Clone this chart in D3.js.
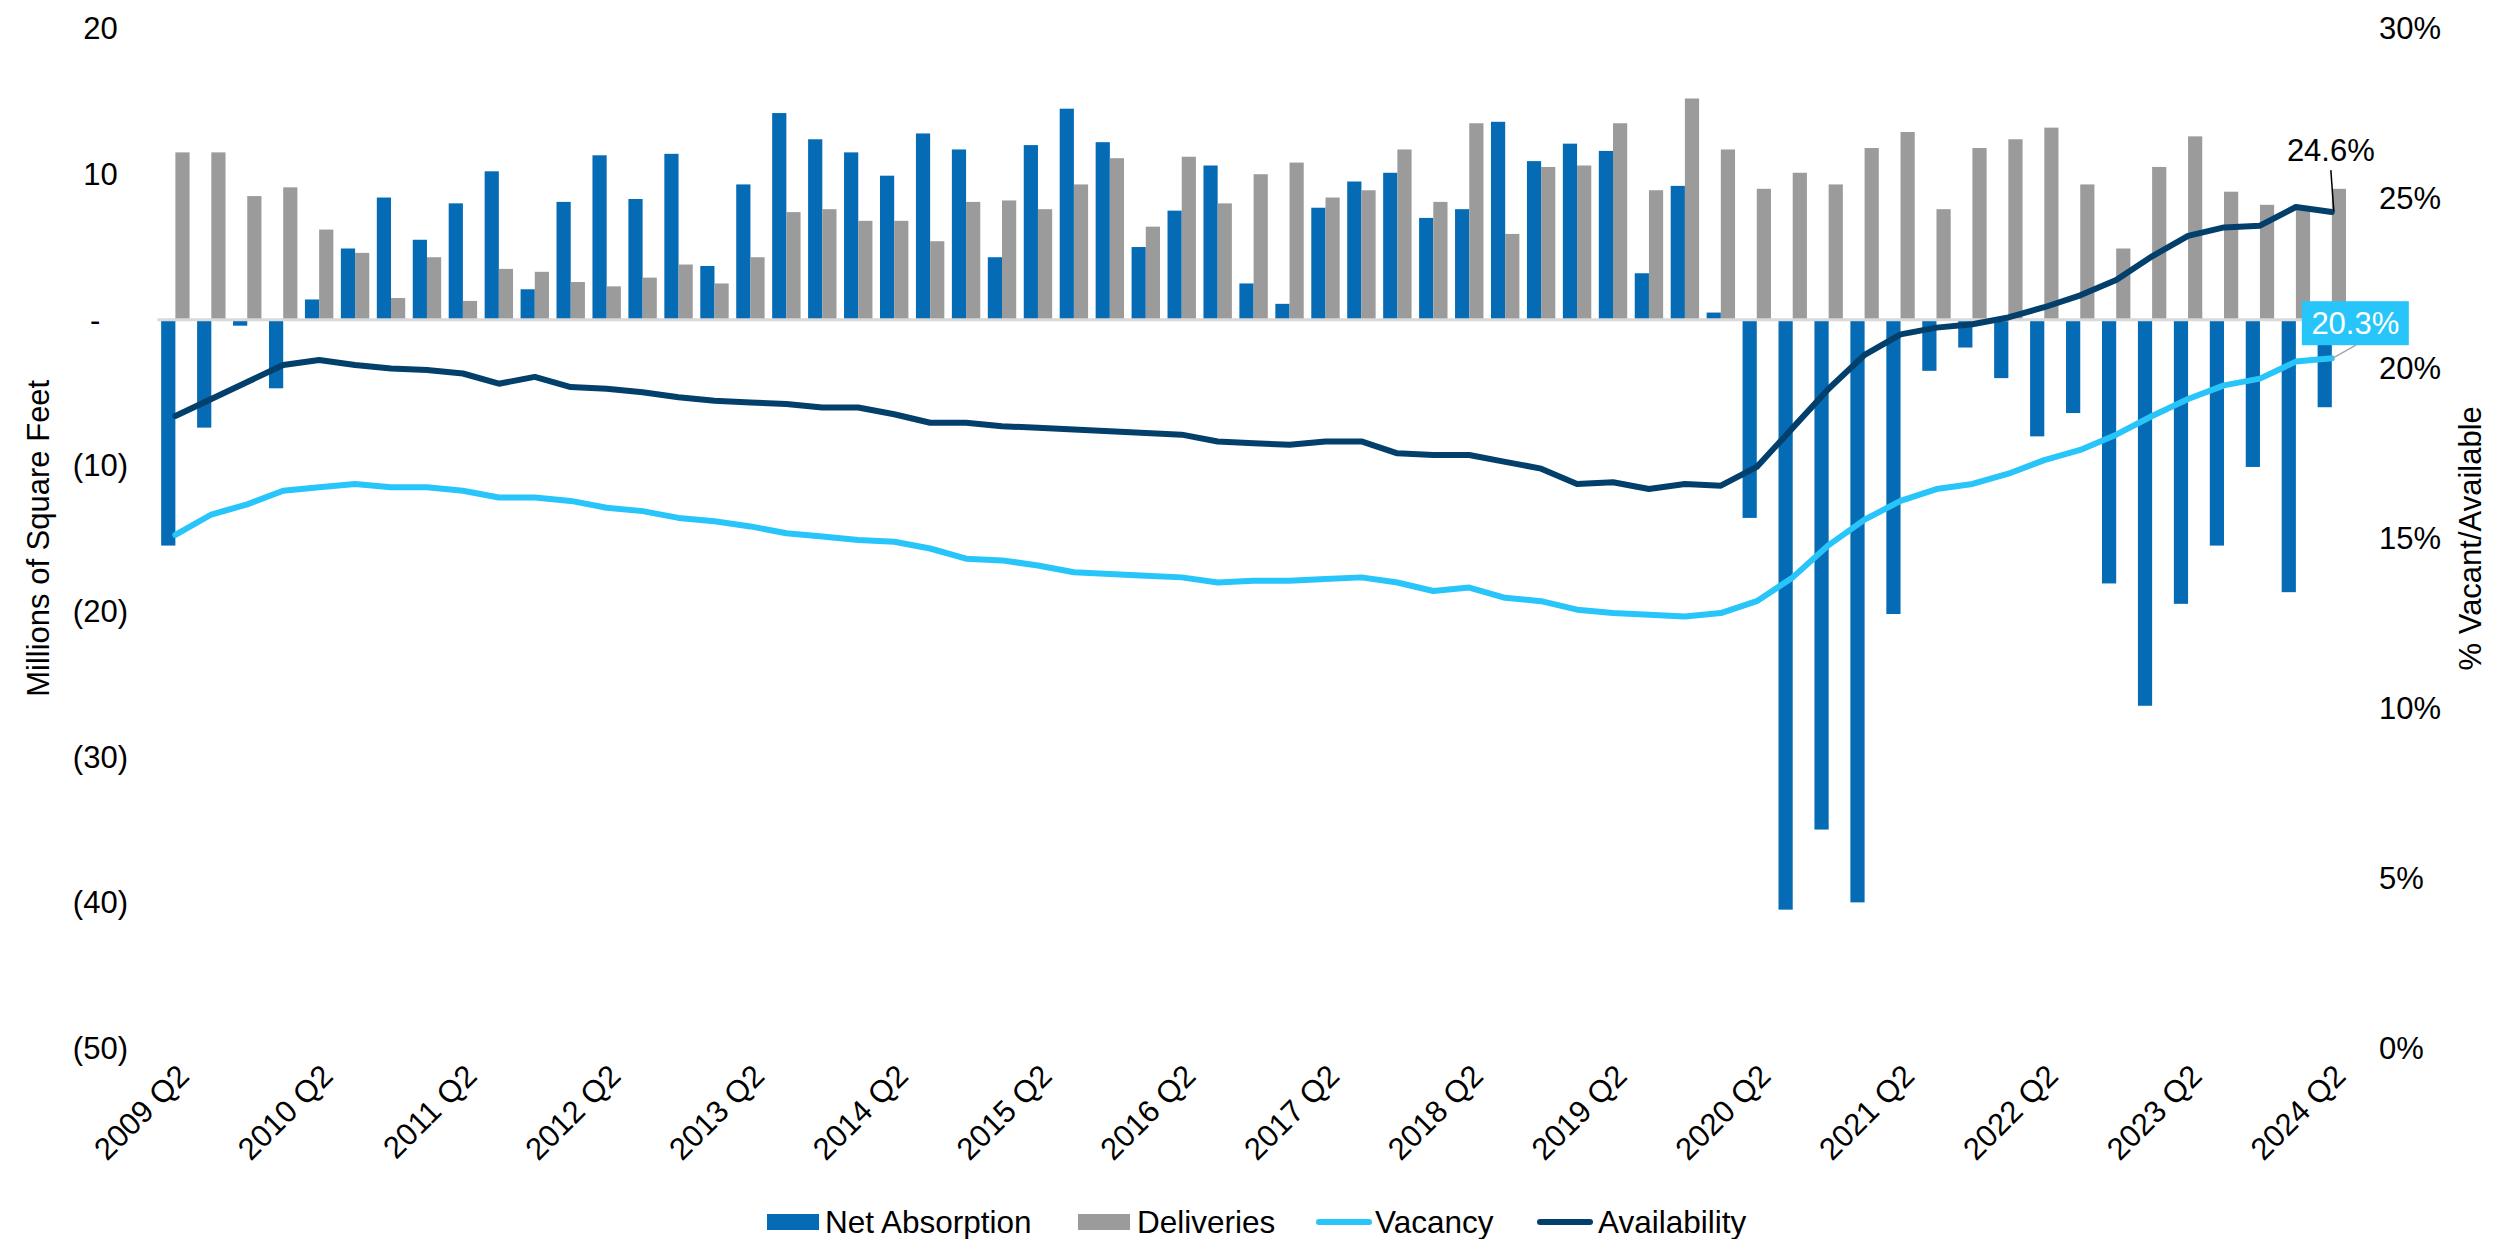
<!DOCTYPE html>
<html lang="en">
    <head>
        <meta charset="utf-8">
        <title>Net Absorption, Deliveries, Vacancy and Availability</title>
        <script type="text/javascript" src="https://cdn.jsdelivr.net/npm/d3@7"></script>
        <style type="text/css">
            body { margin: 0; background: #fff; }
            text { font-family: "Liberation Sans", Arial, sans-serif; fill: #000; }
        </style>
    </head>

    <body>
        <script type="text/javascript">
            // Quarters 2009 Q2 .. 2024 Q2
            var quarters = [];
            for (var yr = 2009; yr <= 2024; yr++) {
                ["Q1", "Q2", "Q3", "Q4"].forEach(function(q) {
                    var lab = yr + " " + q;
                    if (!(yr === 2009 && q === "Q1") && !(yr === 2024 && (q === "Q3" || q === "Q4"))) quarters.push(lab);
                });
            }

            // Millions of square feet
            var netAbsorption = [ -15.5, -7.4, -0.4, -4.7, 1.4, 4.9, 8.4, 5.5, 8.0, 10.2,
                                  2.1, 8.1, 11.3, 8.3, 11.4, 3.7, 9.3, 14.2, 12.4, 11.5,
                                  9.9, 12.8, 11.7, 4.3, 12.0, 14.5, 12.2, 5.0, 7.5, 10.6,
                                  2.5, 1.1, 7.7, 9.5, 10.1, 7.0, 7.6, 13.6, 10.9, 12.1,
                                  11.6, 3.2, 9.2, 0.5, -13.6, -40.5, -35.0, -40.0, -20.2, -3.5,
                                  -1.9, -4.0, -8.0, -6.4, -18.1, -26.5, -19.5, -15.5, -10.1, -18.7,
                                  -6.0 ];
            var deliveries = [ 11.5, 11.5, 8.5, 9.1, 6.2, 4.6, 1.5, 4.3, 1.3, 3.5,
                               3.3, 2.6, 2.3, 2.9, 3.8, 2.5, 4.3, 7.4, 7.6, 6.8,
                               6.8, 5.4, 8.1, 8.2, 7.6, 9.3, 11.1, 6.4, 11.2, 8.0,
                               10.0, 10.8, 8.4, 8.9, 11.7, 8.1, 13.5, 5.9, 10.5, 10.6,
                               13.5, 8.9, 15.2, 11.7, 9.0, 10.1, 9.3, 11.8, 12.9, 7.6,
                               11.8, 12.4, 13.2, 9.3, 4.9, 10.5, 12.6, 8.8, 7.9, 7.6,
                               9.0 ];
            // Percent
            var vacancy = [ 15.1, 15.7, 16.0, 16.4, 16.5, 16.6, 16.5, 16.5, 16.4, 16.2,
                            16.2, 16.1, 15.9, 15.8, 15.6, 15.5, 15.35, 15.15, 15.05, 14.95,
                            14.9, 14.7, 14.4, 14.35, 14.2, 14.0, 13.95, 13.9, 13.85, 13.7,
                            13.75, 13.75, 13.8, 13.85, 13.7, 13.45, 13.55, 13.25, 13.15, 12.9,
                            12.8, 12.75, 12.7, 12.8, 13.15, 13.85, 14.8, 15.55, 16.1, 16.45,
                            16.6, 16.9, 17.3, 17.6, 18.05, 18.6, 19.1, 19.5, 19.7, 20.2,
                            20.3 ];
            var availability = [ 18.6, 19.1, 19.6, 20.1, 20.25, 20.1, 20.0, 19.95, 19.85, 19.55,
                                 19.75, 19.45, 19.4, 19.3, 19.15, 19.05, 19.0, 18.95, 18.85, 18.85,
                                 18.65, 18.4, 18.4, 18.3, 18.25, 18.2, 18.15, 18.1, 18.05, 17.85,
                                 17.8, 17.75, 17.85, 17.85, 17.5, 17.45, 17.45, 17.25, 17.05, 16.6,
                                 16.65, 16.45, 16.6, 16.55, 17.1, 18.25, 19.4, 20.4, 21.0, 21.2,
                                 21.3, 21.5, 21.8, 22.15, 22.6, 23.3, 23.9, 24.15, 24.2, 24.75,
                                 24.6 ];

            var leftTicks = [20, 10, 0, -10, -20, -30, -40, -50];
            var rightTicks = [0, 5, 10, 15, 20, 25, 30];
            var xTickLabels = quarters.filter(function(q) { return q.slice(-2) === "Q2"; });

            var colors = {
                absorption: "#046bb4",
                deliveries: "#9b9b9b",
                vacancy: "#27c5fa",
                availability: "#023f6b"
            };

            // Establish dimensions of svg
            var w = 2497;
            var h = 1239;
            var plotLeft = 157.4, plotRight = 2349.8, plotTop = 28.6, plotBottom = 1048;
            var fontSize = 31;

            var svg = d3.select("body")
                        .append("svg")
                        .attr("width", w)
                        .attr("height", h);

            var x = d3.scaleBand()
                      .domain(quarters)
                      .range([plotLeft, plotRight])
                      .padding(0);

            // two bars side by side in the middle of each quarter
            var barW = 14.2;
            var x1 = d3.scaleBand()
                       .domain(["absorption", "deliveries"])
                       .range([x.bandwidth() / 2 - barW, x.bandwidth() / 2 + barW]);

            var yL = d3.scaleLinear().domain([-50, 20]).range([plotBottom, plotTop]);
            var yR = d3.scaleLinear().domain([0, 30]).range([plotBottom, plotTop]);

            // Left axis labels (accounting style)
            var parenW = 0.333 * fontSize;
            var leftAxis = svg.append("g");
            leftAxis.selectAll("text")
                .data(leftTicks)
                .enter()
                .append("text")
                .attr("x", function(d) {
                    if (d < 0) return 128;
                    if (d === 0) return 128 - parenW - 0.556 * fontSize;
                    return 128 - parenW;
                })
                .attr("y", function(d) { return yL(d); })
                .attr("dy", "0.35em")
                .attr("text-anchor", "end")
                .attr("font-size", fontSize)
                .text(function(d) {
                    if (d < 0) return "(" + Math.abs(d) + ")";
                    if (d === 0) return "-";
                    return d;
                });

            // Right axis labels
            svg.append("g").selectAll("text")
                .data(rightTicks)
                .enter()
                .append("text")
                .attr("x", 2379)
                .attr("y", function(d) { return yR(d); })
                .attr("dy", "0.35em")
                .attr("text-anchor", "start")
                .attr("font-size", fontSize)
                .text(function(d) { return d + "%"; });

            // Axis titles
            svg.append("text")
                .attr("transform", "translate(38.5," + ((plotTop + plotBottom) / 2) + ") rotate(-90)")
                .attr("dy", "0.35em")
                .attr("text-anchor", "middle")
                .attr("font-size", fontSize)
                .text("Millions of Square Feet");

            svg.append("text")
                .attr("transform", "translate(2470," + ((plotTop + plotBottom) / 2) + ") rotate(-90)")
                .attr("dy", "0.35em")
                .attr("text-anchor", "middle")
                .attr("font-size", fontSize)
                .text("% Vacant/Available");

            // X axis labels, every Q2
            svg.append("g").selectAll("text")
                .data(xTickLabels)
                .enter()
                .append("text")
                .attr("transform", function(d) {
                    var cx = x(d) + x.bandwidth() / 2;
                    return "translate(" + (cx + 8) + "," + (plotBottom + 22) + ") rotate(-45)";
                })
                .attr("dy", "0.35em")
                .attr("text-anchor", "end")
                .attr("font-size", fontSize)
                .text(function(d) { return d; });

            // Bars
            var bars = svg.append("g");
            bars.selectAll("rect.abs")
                .data(netAbsorption)
                .enter()
                .append("rect")
                .attr("class", "abs")
                .attr("x", function(d, i) { return x(quarters[i]) + x1("absorption"); })
                .attr("y", function(d) { return yL(Math.max(0, d)); })
                .attr("width", x1.bandwidth())
                .attr("height", function(d) { return Math.abs(yL(d) - yL(0)); })
                .attr("fill", colors.absorption);

            bars.selectAll("rect.del")
                .data(deliveries)
                .enter()
                .append("rect")
                .attr("class", "del")
                .attr("x", function(d, i) { return x(quarters[i]) + x1("deliveries"); })
                .attr("y", function(d) { return yL(Math.max(0, d)); })
                .attr("width", x1.bandwidth())
                .attr("height", function(d) { return Math.abs(yL(d) - yL(0)); })
                .attr("fill", colors.deliveries);

            // Zero line
            svg.append("line")
                .attr("x1", plotLeft)
                .attr("x2", plotRight)
                .attr("y1", yL(0))
                .attr("y2", yL(0))
                .attr("stroke", "#d9d9d9")
                .attr("stroke-width", 3);

            // Lines
            var line = d3.line()
                         .x(function(d, i) { return x(quarters[i]) + x.bandwidth() / 2; })
                         .y(function(d) { return yR(d); });

            svg.append("path")
                .datum(vacancy)
                .attr("d", line)
                .attr("fill", "none")
                .attr("stroke", colors.vacancy)
                .attr("stroke-width", 6)
                .attr("stroke-linejoin", "round")
                .attr("stroke-linecap", "round");

            svg.append("path")
                .datum(availability)
                .attr("d", line)
                .attr("fill", "none")
                .attr("stroke", colors.availability)
                .attr("stroke-width", 6)
                .attr("stroke-linejoin", "round")
                .attr("stroke-linecap", "round");

            // Last value callouts
            var last = quarters.length - 1;
            var lx = x(quarters[last]) + x.bandwidth() / 2;
            var lastAvail = availability[last], lastVac = vacancy[last];

            svg.append("line")
                .attr("x1", lx - 1).attr("y1", yR(lastAvail) - 42)
                .attr("x2", lx + 2).attr("y2", yR(lastAvail) - 1)
                .attr("stroke", "#000")
                .attr("stroke-width", 1.5);
            svg.append("text")
                .attr("x", lx - 1)
                .attr("y", yR(lastAvail) - 51)
                .attr("text-anchor", "middle")
                .attr("font-size", fontSize)
                .text(lastAvail.toFixed(1) + "%");

            var boxX = lx - 30, boxY = yR(lastVac) - 57;
            svg.append("line")
                .attr("x1", lx + 1).attr("y1", yR(lastVac))
                .attr("x2", lx + 24).attr("y2", boxY + 44)
                .attr("stroke", "#a6a6a6")
                .attr("stroke-width", 1.5);
            svg.append("rect")
                .attr("x", boxX)
                .attr("y", boxY)
                .attr("width", 107)
                .attr("height", 44)
                .attr("fill", colors.vacancy);
            svg.append("text")
                .attr("x", boxX + 53.5)
                .attr("y", boxY + 33)
                .attr("text-anchor", "middle")
                .attr("font-size", fontSize)
                .style("fill", "#fff")
                .text(lastVac.toFixed(1) + "%");

            // Legend
            var legendY = 1222;
            var legend = svg.append("g");
            var items = [
                { name: "Net Absorption", type: "rect", color: colors.absorption, x: 767, tx: 825 },
                { name: "Deliveries", type: "rect", color: colors.deliveries, x: 1078, tx: 1137 },
                { name: "Vacancy", type: "line", color: colors.vacancy, x: 1316, tx: 1375 },
                { name: "Availability", type: "line", color: colors.availability, x: 1537, tx: 1598 }
            ];
            items.forEach(function(it) {
                if (it.type === "rect") {
                    legend.append("rect")
                        .attr("x", it.x).attr("y", legendY - 8)
                        .attr("width", 52).attr("height", 16)
                        .attr("fill", it.color);
                } else {
                    legend.append("line")
                        .attr("x1", it.x + 3).attr("x2", it.x + 53)
                        .attr("y1", legendY).attr("y2", legendY)
                        .attr("stroke", it.color)
                        .attr("stroke-width", 6)
                        .attr("stroke-linecap", "round");
                }
                legend.append("text")
                    .attr("x", it.tx)
                    .attr("y", legendY)
                    .attr("dy", "0.35em")
                    .attr("font-size", 31.5)
                    .text(it.name);
            });
        </script>
    </body>
</html>
